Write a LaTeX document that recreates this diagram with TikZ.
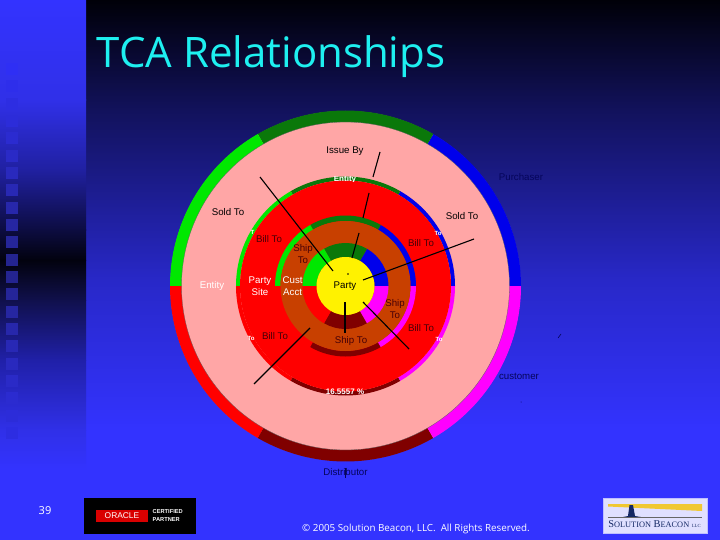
\documentclass[tikz,border=0pt]{standalone}
\usepackage{fontspec}
\setmainfont{Liberation Sans}
\newfontfamily\tahomaish{Open Sans}
\definecolor{bgA}{RGB}{0,0,8}
\definecolor{bgB}{RGB}{18,18,92}
\definecolor{bgC}{RGB}{40,40,200}
\definecolor{bgD}{RGB}{51,51,255}
\definecolor{lfA}{RGB}{48,48,232}
\definecolor{lfB}{RGB}{32,32,160}
\definecolor{lfC}{RGB}{12,12,64}
\definecolor{lfD}{RGB}{2,2,14}
\definecolor{lfE}{RGB}{16,16,76}
\definecolor{lfF}{RGB}{32,32,168}
\definecolor{cGreen}{RGB}{0,232,0}
\definecolor{cDkGreen}{RGB}{10,120,10}
\definecolor{cBlue}{RGB}{0,0,235}
\definecolor{cMag}{RGB}{255,0,255}
\definecolor{cDkRed}{RGB}{128,0,0}
\definecolor{cRed}{RGB}{255,0,0}
\definecolor{cPink}{RGB}{255,166,166}
\definecolor{cBrown}{RGB}{200,64,0}
\definecolor{cCyan}{RGB}{30,240,240}
\definecolor{txtRed}{RGB}{70,0,8}
\definecolor{txtBlue}{RGB}{5,5,90}
\definecolor{beaconNavy}{RGB}{20,40,100}
\definecolor{beaconGold}{RGB}{240,200,50}
\newcommand{\gradrect}[6]{\shade[bottom color=#6,top color=#5,shading angle=0] (#1,-#3) rectangle (#2,-#4);}
\newcommand{\sectorring}[5]{\fill[#5] (345.5,-286)++(#3:#1) arc[start angle=#3,end angle=#4,radius=#1] -- ($(345.5,-286)+(#4:#2)$) arc[start angle=#4,end angle=#3,radius=#2] -- cycle;}
\newcommand{\fullring}[2]{%
 \sectorring{#1}{#2}{0}{60}{cBlue}
 \sectorring{#1}{#2}{60}{120}{cDkGreen}
 \sectorring{#1}{#2}{120}{180}{cGreen}
 \sectorring{#1}{#2}{180}{240}{cRed}
 \sectorring{#1}{#2}{240}{300}{cDkRed}
 \sectorring{#1}{#2}{300}{360}{cMag}}
\usetikzlibrary{calc}
\tikzset{
 lbl/.style={font=\fontsize{9.7}{12}\selectfont,align=center,inner sep=0pt},
 onpink/.style={lbl,text=black},
 onred/.style={lbl,text=txtRed},
 onblue/.style={lbl,text=txtBlue},
 onwhite/.style={lbl,text=white},
 spoke/.style={draw=black,line width=1.1pt},
 frag/.style={inner sep=0pt,text=white,font=\fontsize{8}{9}\selectfont\bfseries}
}
\begin{document}
\begin{tikzpicture}[x=1pt,y=1pt]
\useasboundingbox (0,-540) rectangle (720,0);
% background
\fill[bgD] (0,-540) rectangle (720,0);
\gradrect{86}{720}{0}{110.5}{bgA}{bgB}
\gradrect{86}{720}{110}{280.5}{bgB}{bgC}
\gradrect{86}{720}{280}{430.5}{bgC}{bgD}
\gradrect{0}{86}{0}{100.5}{bgD}{lfA}
\gradrect{0}{86}{100}{170.5}{lfA}{lfB}
\gradrect{0}{86}{170}{230.5}{lfB}{lfC}
\gradrect{0}{86}{230}{260.5}{lfC}{lfD}
\gradrect{0}{86}{260}{300.5}{lfD}{lfE}
\gradrect{0}{86}{300}{360.5}{lfE}{lfF}
\gradrect{0}{86}{360}{430.5}{lfF}{lfA}
\gradrect{0}{86}{430}{470}{lfA}{bgD}
% squares of the left band
\foreach \i in {0,...,21}{
  \pgfmathsetmacro{\yy}{63+17.33*\i}
  \pgfmathsetmacro{\tt}{min(1,abs(\yy-262)/200)}
  \pgfmathtruncatemacro{\rr}{36+12*\tt}
  \pgfmathtruncatemacro{\bb}{140+105*\tt}
  \definecolor{sq}{RGB}{\rr,\rr,\bb}
  \fill[sq] (6,-\yy) rectangle ++(12,-12);
}
% title
\node[inner sep=0pt,anchor=base west,text=cCyan,font=\tahomaish\fontsize{42}{48}\selectfont] (title) at (96.5,-68) {TCA Relationships};
% rings
\fill[cPink] (345.5,-286) circle[radius=175];
\fullring{175.5}{164}
\draw[black!60,line width=.3pt] (345.5,-286) circle[radius=164];
\fullring{109.5}{105.5}
\fill[cRed] (345.5,-286) circle[radius=105.5];
\fullring{70.5}{65}
\fill[cBrown] (345.5,-286) circle[radius=65];
\fullring{43}{29}
\fill[cRed] (345.5,-286) ++(180:43) arc[start angle=180,end angle=240,radius=43] -- ++(60:14) arc[start angle=240,end angle=180,radius=29] -- cycle;
\fill[yellow] (345.5,-286) circle[radius=29];
% garbled white fragments
\begin{scope}
\clip (325,-176.5) rectangle (362,-181.5);
\node[frag] (fragtop) at (345,-179.5) {Entity};
\end{scope}
\begin{scope}
\clip (318,-388) rectangle (372,-396);
\node[frag] (fragbot) at (345,-392) {16.5557 \%};
\end{scope}
\node[frag,font=\fontsize{6}{7}\selectfont\bfseries] (fragA) at (252.5,-232) {T};
\node[frag,font=\fontsize{6}{7}\selectfont\bfseries] (fragB) at (438,-233) {To};
\node[frag,font=\fontsize{6}{7}\selectfont\bfseries] (fragC) at (251,-338) {To};
\node[frag,font=\fontsize{6}{7}\selectfont\bfseries] (fragD) at (439,-339) {To};
% spokes
\draw[spoke] (260,-177) -- (333,-271);
\draw[spoke] (380,-152) -- (373,-177);
\draw[spoke] (369,-193) -- (363,-218);
\draw[spoke] (359,-233) -- (352,-258);
\draw[spoke] (474,-239) -- (363,-280);
\draw[spoke] (363,-302) -- (409,-349);
\draw[spoke,line width=1.4pt] (345,-302) -- (345,-333);
\draw[spoke] (310,-328) -- (254,-384);
\fill[black] (348,-274) circle[radius=.8];
% labels
\node[onpink] (issue) at (345,-151) {Issue By};
\node[onblue] (purch) at (521,-177) {Purchaser};
\node[onpink] (soldL) at (228,-212) {Sold To};
\node[onpink] (soldR) at (462,-216) {Sold To};
\node[onred] (billUL) at (269,-239) {Bill To};
\node[onred] (billUR) at (421,-243) {Bill To};
\node[onred] (shipUL) at (303,-254) {Ship\\To};
\node[onwhite] (entity) at (212,-286) {Entity};
\node[onwhite] (site) at (260,-286) {Party\\Site};
\begin{scope}
\clip (280,-270) rectangle (303,-300);
\node[onwhite,anchor=west] (cust) at (282.5,-286) {Cust\\Acct};
\end{scope}
\node[lbl,text=black] (party) at (345,-286) {Party};
\node[onred] (shipR) at (395,-309) {Ship\\To};
\node[onred] (billLR) at (421,-328) {Bill To};
\node[onred] (billLL) at (275,-336) {Bill To};
\node[onred] (shipB) at (351,-341) {Ship To};
\node[onblue] (cust2) at (519,-376) {customer};
\node[onblue] (dist) at (345.5,-472) {Distributor};
% stray marks
\draw[txtBlue,line width=.5pt] (345.5,-468) -- (345.5,-478);
\draw[txtBlue,line width=.6pt] (558,-338) -- (561,-334);
\fill[txtBlue] (521,-402) circle[radius=.5];
% footer
\node[inner sep=0pt,text=white,font=\tahomaish\fontsize{11}{13}\selectfont] (pageno) at (45,-511) {39};
\node[inner sep=0pt,anchor=west,text=white,font=\tahomaish\fontsize{9.8}{11}\selectfont] (copy) at (302,-529) {© 2005 Solution Beacon, LLC.\ \ All Rights Reserved.};
% oracle badge
\fill[black] (84,-534) rectangle (196,-498);
\fill[red!85!black] (96,-522) rectangle (148,-510);
\node[inner sep=0pt,text=white,font=\fontsize{8.4}{9}\selectfont] (oracle) at (122,-516) {ORACLE};
\node[inner sep=0pt,anchor=west,text=white,font=\fontsize{5.7}{6}\selectfont\bfseries] (cert) at (152.5,-512) {CERTIFIED};
\node[inner sep=0pt,anchor=west,text=white,font=\fontsize{5.7}{6}\selectfont\bfseries] (partner) at (152.5,-519.5) {PARTNER};
% beacon logo
\fill[white!88!blue,draw=white!75!blue,line width=1pt] (603.5,-533.5) rectangle (707.5,-498.5);
\fill[beaconGold] (608,-504) -- (702,-504) -- (702,-511) -- (608,-506.5) -- cycle;
\fill[beaconNavy] (628,-516) -- (629.5,-505) -- (633,-505) -- (635,-516) -- (641,-517) -- (623,-517) -- cycle;
\draw[black!60,line width=.4pt] (608,-517) -- (702,-517);
\node[inner sep=0pt,text=beaconNavy,font=\fontspec{Liberation Serif}\fontsize{10.4}{12}\selectfont] (beacon) at (654.5,-524.5) {S\scalebox{.8}{OLUTION} B\scalebox{.8}{EACON} \scalebox{.45}{LLC}};
\end{tikzpicture}
\end{document}
